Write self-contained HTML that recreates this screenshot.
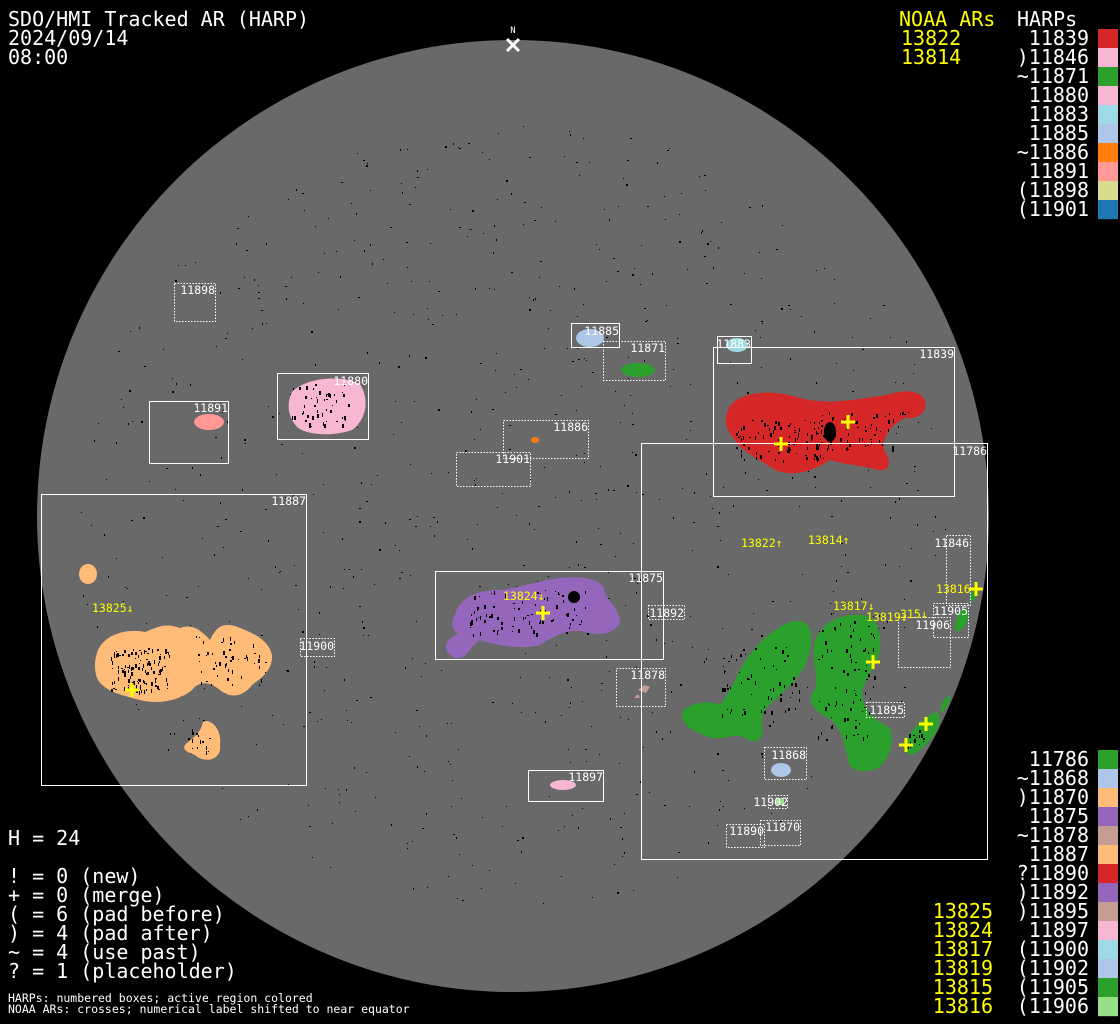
<!DOCTYPE html>
<html><head><meta charset="utf-8"><style>
html,body{margin:0;padding:0;background:#000;}
body{width:1120px;height:1024px;overflow:hidden;position:relative;font-family:"DejaVu Sans Mono","Liberation Mono",monospace;}
svg{position:absolute;left:0;top:0;}
</style></head><body>
<svg width="1120" height="1024" viewBox="0 0 1120 1024" xmlns="http://www.w3.org/2000/svg" font-family="DejaVu Sans Mono, Liberation Mono, monospace">
<rect width="1120" height="1024" fill="#000"/>
<circle cx="513" cy="516" r="476" fill="#696969"/>
<g id="dots" fill="#000"></g>

<!-- active regions -->
<path d="M728,410 C735,392 770,388 800,398 C830,405 850,400 880,396 C900,392 910,388 922,396 C932,408 920,420 905,418 C890,425 880,440 885,452 C892,462 890,472 878,470 C860,465 845,465 830,460 C815,470 795,478 775,470 C760,460 740,450 735,440 C725,430 724,420 728,410Z" fill="#d62728"/>
<path d="M292,392 C305,378 340,374 360,384 C370,400 366,420 352,430 C335,436 310,436 298,428 C288,418 286,404 292,392Z" fill="#f7b6d2"/>
<ellipse cx="209" cy="422" rx="15" ry="8" fill="#ff9896"/>
<ellipse cx="590" cy="338" rx="14" ry="9" fill="#aec7e8"/>
<ellipse cx="638" cy="370" rx="17" ry="7" fill="#2ca02c"/>
<ellipse cx="737" cy="345" rx="11" ry="7" fill="#9edae5"/>
<ellipse cx="535" cy="440" rx="4" ry="3" fill="#ff7f0e"/>
<path d="M455,614 C462,595 480,590 500,590 C520,588 540,580 560,578 C580,576 598,578 604,588 C605,600 620,608 620,622 C615,634 600,636 585,632 C570,628 555,635 540,645 C520,650 495,645 480,640 C470,645 468,660 455,658 C440,650 445,640 458,634 C452,630 450,622 455,614Z" fill="#9467bd"/>
<path d="M98,650 C105,635 125,628 145,632 C155,628 165,622 180,628 C195,622 205,635 210,640 C215,630 220,622 235,626 C250,632 268,638 272,655 C273,672 258,680 252,685 C245,695 232,700 220,690 C210,682 200,680 192,690 C180,700 160,705 140,700 C120,695 100,690 96,675 C94,665 95,658 98,650Z" fill="#ffbb78"/>
<ellipse cx="88" cy="574" rx="9" ry="10" fill="#ffbb78"/>
<path d="M185,745 C192,738 200,735 203,722 C210,718 222,728 220,745 C222,760 205,764 195,755 C188,752 182,750 185,745Z" fill="#ffbb78"/>
<ellipse cx="563" cy="785" rx="13" ry="5" fill="#f7b6d2"/>
<ellipse cx="781" cy="770" rx="10" ry="7" fill="#aec7e8"/>
<path d="M638,690 l6,-5 l6,2 l-4,6 Z M634,698 l4,-4 l2,4 Z" fill="#c49c94"/>
<rect x="776" y="798" width="8" height="7" fill="#98df8a"/>
<!-- green 11786 -->
<path d="M682,712 C690,702 710,700 720,705 C728,695 735,680 740,670 C750,650 770,630 790,622 C805,618 815,625 810,650 C805,675 790,685 780,695 C770,705 760,710 762,725 C765,740 755,745 745,738 C735,732 725,740 712,738 C695,733 680,725 682,712Z" fill="#2ca02c"/>
<path d="M815,640 C822,625 835,615 855,615 C870,613 880,622 880,640 C882,660 870,670 862,690 C862,710 875,720 890,728 C895,745 888,760 878,768 C865,774 850,772 848,760 C845,742 840,725 828,718 C815,712 805,700 815,690 C820,678 810,660 815,640Z" fill="#2ca02c"/>
<path d="M905,745 C910,730 925,715 937,712 C945,720 935,738 920,750 C912,758 903,754 905,745Z" fill="#2ca02c"/>
<path d="M940,712 C942,702 946,695 950,696 C950,705 944,712 940,712Z" fill="#2ca02c"/>
<path d="M955,628 C956,615 962,606 968,610 C970,620 964,630 957,632Z" fill="#2ca02c"/>
<path d="M970,598 C972,590 976,585 978,590 C976,600 972,605 970,598Z" fill="#2ca02c"/>
<g fill="#000" id="spots">
<ellipse cx="830" cy="432" rx="6" ry="10"/>
<circle cx="574" cy="597" r="6"/>
</g>

<!-- boxes -->
<g fill="none" stroke="#fff" stroke-width="1">
<rect x="149.5" y="401.5" width="79" height="62"/>
<rect x="277.5" y="373.5" width="91" height="66"/>
<rect x="571.5" y="323.5" width="48" height="24"/>
<rect x="717.5" y="336.5" width="34" height="27"/>
<rect x="713.5" y="347.5" width="241" height="149"/>
<rect x="641.5" y="443.5" width="346" height="416"/>
<rect x="41.5" y="494.5" width="265" height="291"/>
<rect x="435.5" y="571.5" width="228" height="88"/>
<rect x="616.5" y="668.5" width="49" height="38" stroke-dasharray="1.5,1.5"/>
<rect x="528.5" y="770.5" width="75" height="31"/>
</g>
<g fill="none" stroke="#fff" stroke-width="1" stroke-dasharray="1.5,1.5">
<rect x="174.5" y="283.5" width="41" height="38"/>
<rect x="603.5" y="341.5" width="62" height="39"/>
<rect x="503.5" y="420.5" width="85" height="38"/>
<rect x="456.5" y="452.5" width="74" height="34"/>
<rect x="648.5" y="605.5" width="36" height="14"/>
<rect x="300.5" y="638.5" width="34" height="18"/>
<rect x="946.5" y="535.5" width="24" height="70"/>
<rect x="933.5" y="603.5" width="35" height="34"/>
<rect x="898.5" y="617.5" width="52" height="50"/>
<rect x="866.5" y="702.5" width="38" height="15"/>
<rect x="764.5" y="747.5" width="42" height="32"/>
<rect x="768.5" y="795.5" width="19" height="13"/>
<rect x="726.5" y="824.5" width="38" height="23"/>
<rect x="760.5" y="820.5" width="40" height="25"/>
</g>
<g fill="#fff" font-size="11.5" text-anchor="end">
<text x="215" y="294">11898</text>
<text x="228" y="412">11891</text>
<text x="368" y="385">11880</text>
<text x="619" y="335">11885</text>
<text x="665" y="352">11871</text>
<text x="751" y="348">11883</text>
<text x="954" y="358">11839</text>
<text x="588" y="431">11886</text>
<text x="530" y="463">11901</text>
<text x="987" y="455">11786</text>
<text x="306" y="505">11887</text>
<text x="663" y="582">11875</text>
<text x="684" y="617">11892</text>
<text x="334" y="650">11900</text>
<text x="969" y="547">11846</text>
<text x="968" y="615">11905</text>
<text x="950" y="629">11906</text>
<text x="665" y="679">11878</text>
<text x="904" y="714">11895</text>
<text x="806" y="759">11868</text>
<text x="603" y="781">11897</text>
<text x="788" y="806">11902</text>
<text x="764" y="835">11890</text>
<text x="800" y="831">11870</text>
</g>
<g fill="#ffff00" font-size="11.5">
<text x="741" y="547">13822↑</text>
<text x="808" y="544">13814↑</text>
<text x="503" y="600">13824↓</text>
<text x="92" y="612">13825↓</text>
<text x="833" y="610">13817↓</text>
<text x="866" y="621">13819↓</text>
<text x="900" y="618">315↓</text>
<text x="936" y="593">13816</text>
</g>
<g stroke="#ffff00" stroke-width="3">
<path d="M774,444h14M781,437v14"/>
<path d="M841,422h14M848,415v14"/>
<path d="M536,613h14M543,606v14"/>
<path d="M866,662h14M873,655v14"/>
<path d="M919,724h14M926,717v14"/>
<path d="M899,745h14M906,738v14"/>
<path d="M969,589h14M976,582v14"/>
<path d="M125,690h14M132,683v14"/>
</g>
<path d="M507,39l12,12M519,39l-12,12" stroke="#fff" stroke-width="3"/>
<text x="513" y="33" fill="#fff" font-size="9" text-anchor="middle">N</text>

<!-- header text -->
<g fill="#fff" font-size="20">
<text x="8" y="26">SDO/HMI Tracked AR (HARP)</text>
<text x="8" y="45">2024/09/14</text>
<text x="8" y="64">08:00</text>
<text x="8" y="845">H = 24</text>
<text x="8" y="883">! = 0 (new)</text>
<text x="8" y="902">+ = 0 (merge)</text>
<text x="8" y="921">( = 6 (pad before)</text>
<text x="8" y="940">) = 4 (pad after)</text>
<text x="8" y="959">~ = 4 (use past)</text>
<text x="8" y="978">? = 1 (placeholder)</text>
<text x="1017" y="26">HARPs</text>
</g>
<g fill="#fff" font-size="11.5">
<text x="8" y="1002">HARPs: numbered boxes; active region colored</text>
<text x="8" y="1013">NOAA ARs: crosses; numerical label shifted to near equator</text>
</g>
<g fill="#ffff00" font-size="20">
<text x="899" y="26">NOAA ARs</text>
<text x="901" y="45">13822</text>
<text x="901" y="64">13814</text>
</g>
<g fill="#ffff00" font-size="20" text-anchor="end">
<text x="993" y="918">13825</text>
<text x="993" y="937">13824</text>
<text x="993" y="956">13817</text>
<text x="993" y="975">13819</text>
<text x="993" y="994">13815</text>
<text x="993" y="1013">13816</text>
</g>
<g fill="#fff" font-size="20" text-anchor="end" id="harps"></g>
<g id="sw"></g>
</svg>
<script>
(function(){
var top=[["11839","#d62728"],[")11846","#f7b6d2"],["~11871","#2ca02c"],["11880","#f7b6d2"],["11883","#9edae5"],["11885","#aec7e8"],["~11886","#ff7f0e"],["11891","#ff9896"],["(11898","#dbdb8d"],["(11901","#1f77b4"]];
var bot=[["11786","#2ca02c"],["~11868","#aec7e8"],[")11870","#ffbb78"],["11875","#9467bd"],["~11878","#c49c94"],["11887","#ffbb78"],["?11890","#d62728"],[")11892","#9467bd"],[")11895","#c49c94"],["11897","#f7b6d2"],["(11900","#9edae5"],["(11902","#aec7e8"],["(11905","#2ca02c"],["(11906","#98df8a"]];
var NS="http://www.w3.org/2000/svg",h=document.getElementById("harps"),s=document.getElementById("sw");
function add(list,y0){list.forEach(function(e,i){var y=y0+i*19;var t=document.createElementNS(NS,"text");t.setAttribute("x","1089");t.setAttribute("y",y+7);t.textContent=e[0];h.appendChild(t);var r=document.createElementNS(NS,"rect");r.setAttribute("x","1098");r.setAttribute("y",y-9);r.setAttribute("width","20");r.setAttribute("height","19.2");r.setAttribute("fill",e[1]);s.appendChild(r);});}
add(top,38);add(bot,759);
var g=document.getElementById("dots"),seed=7;function rnd(){seed=(seed*16807)%2147483647;return seed/2147483647;}
function dot(p,x,y,w,hh){var d=document.createElementNS(NS,"rect");d.setAttribute("x",x.toFixed(0));d.setAttribute("y",y.toFixed(0));d.setAttribute("width",w);d.setAttribute("height",hh);p.appendChild(d);}
for(var i=0;i<800;i++){var a=rnd()*6.283,rr=Math.sqrt(rnd())*440;dot(g,513+rr*Math.cos(a),516+rr*0.9*Math.sin(a),rnd()<0.25?2:1,rnd()<0.25?2:1);}
var sp=document.getElementById("spots");
var cl=[[780,440,45,20,90],[860,430,50,20,60],[320,405,28,22,50],[530,612,60,22,80],[140,670,30,22,120],[230,660,35,25,50],[760,680,40,35,60],[845,680,30,60,80],[200,740,12,12,15],[915,738,10,10,15]];
cl.forEach(function(c){for(var k=0;k<c[4];k++){dot(sp,c[0]+(rnd()*2-1)*c[2],c[1]+(rnd()*2-1)*c[3],rnd()<0.4?2:1,1+Math.floor(rnd()*4));}});
})();
</script>
</body></html>
